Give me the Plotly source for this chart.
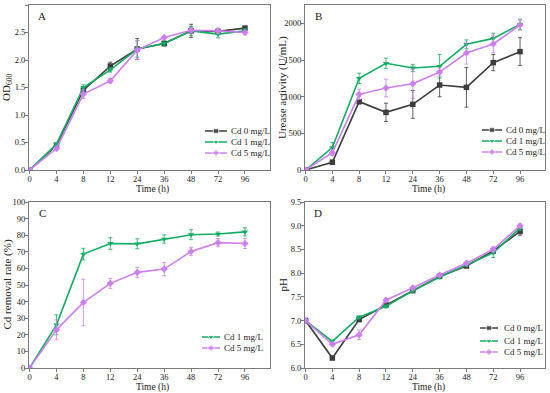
import plotly.graph_objects as go

times = ["0", "4", "8", "12", "24", "36", "48", "72", "96"]
series_names = ["Cd 0 mg/L", "Cd 1 mg/L", "Cd 5 mg/L"]

# Panel A: OD600
od_cd0 = [0, 0.45, 1.45, 1.89, 2.20, 2.30, 2.53, 2.52, 2.58]
od_cd1 = [0, 0.47, 1.50, 1.82, 2.20, 2.30, 2.53, 2.47, 2.53]
od_cd5 = [0, 0.39, 1.38, 1.62, 2.18, 2.41, 2.54, 2.53, 2.50]
od_cd0_err = [0, 0.02, 0.05, 0.07, 0.19, 0.04, 0.12, 0.04, 0.03]
od_cd1_err = [0, 0.02, 0.05, 0.04, 0.15, 0.05, 0.08, 0.07, 0.04]
od_cd5_err = [0, 0.02, 0.08, 0.04, 0.17, 0.02, 0.05, 0.05, 0.04]

# Panel B: urease activity
ur_cd0 = [0, 105, 932, 786, 895, 1159, 1127, 1464, 1614]
ur_cd1 = [0, 305, 1250, 1455, 1391, 1414, 1714, 1795, 1986]
ur_cd5 = [0, 236, 1032, 1118, 1177, 1336, 1595, 1718, 1977]
ur_cd0_err = [0, 30, 30, 125, 190, 160, 270, 110, 190]
ur_cd1_err = [0, 70, 70, 70, 50, 160, 60, 70, 70]
ur_cd5_err = [0, 40, 70, 120, 200, 60, 150, 120, 70]

# Panel C: Cd removal rate
rm_cd1 = [0, 26.0, 68.6, 75.0, 74.8, 77.7, 80.3, 80.7, 82.0]
rm_cd5 = [0, 23.0, 39.5, 51.0, 57.6, 59.6, 70.2, 75.5, 75.0]
rm_cd1_err = [0, 6.0, 3.5, 3.5, 3.0, 2.5, 3.0, 1.2, 2.5]
rm_cd5_err = [0, 6.0, 14.0, 3.0, 3.0, 4.0, 2.5, 2.5, 3.0]

# Panel D: pH
ph_cd0 = [7.00, 6.21, 7.02, 7.33, 7.63, 7.93, 8.15, 8.47, 8.88]
ph_cd1 = [7.00, 6.56, 7.07, 7.30, 7.63, 7.92, 8.17, 8.43, 8.95]
ph_cd5 = [7.00, 6.50, 6.70, 7.43, 7.69, 7.96, 8.21, 8.50, 9.00]
ph_cd0_err = [0.02, 0.03, 0.03, 0.03, 0.03, 0.03, 0.03, 0.05, 0.08]
ph_cd1_err = [0.02, 0.03, 0.03, 0.03, 0.03, 0.03, 0.03, 0.10, 0.05]
ph_cd5_err = [0.02, 0.03, 0.10, 0.03, 0.03, 0.03, 0.03, 0.05, 0.03]

colors = ["#3d3d3d", "#12ad62", "#cc7fee"]
symbols = ["square", "triangle-down", "diamond"]
FONT = "Liberation Serif"
TXT = "#222"

W, H = 550, 393

panels = [
    dict(ax="", box=(29, 270, 5, 170), yr=[0, 3.0], dt=0.5, fmt=".1f",
         ytitle="OD<sub>600</sub>", letter="A", leg=(-65, -43, -41, [-39, -28, -17]),
         data=[(0, od_cd0, od_cd0_err), (1, od_cd1, od_cd1_err), (2, od_cd5, od_cd5_err)]),
    dict(ax="2", box=(305, 545, 5, 170), yr=[0, 2250], dt=500, fmt="d",
         ytitle="Urease activity (U/mL)", letter="B", leg=(-63, -43, -41, [-40, -29, -18]),
         data=[(0, ur_cd0, ur_cd0_err), (1, ur_cd1, ur_cd1_err), (2, ur_cd5, ur_cd5_err)]),
    dict(ax="3", box=(29, 270, 202, 368), yr=[0, 100], dt=10, fmt="d",
         ytitle="Cd removal rate (%)", letter="C", leg=(-68, -50, -48, [-31, -20]),
         data=[(1, rm_cd1, rm_cd1_err), (2, rm_cd5, rm_cd5_err)]),
    dict(ax="4", box=(305, 545, 202, 368), yr=[6.0, 9.5], dt=0.5, fmt=".1f",
         ytitle="pH", letter="D", leg=(-65, -47, -43, [-40, -27, -16]),
         data=[(0, ph_cd0, ph_cd0_err), (1, ph_cd1, ph_cd1_err), (2, ph_cd5, ph_cd5_err)]),
]

fig = go.Figure()
layout = dict(
    width=W, height=H, margin=dict(l=0, r=0, t=0, b=0, autoexpand=False),
    paper_bgcolor="white", plot_bgcolor="rgba(0,0,0,0)",
    font=dict(family=FONT, size=9, color=TXT),
    showlegend=False, annotations=[],
)

axis_common = dict(showline=True, linecolor="#7a7a7a", linewidth=1, mirror=True,
                   ticks="outside", ticklen=3, tickcolor="#7a7a7a", showgrid=False,
                   zeroline=False, automargin=False, ticklabelstandoff=-2,
                   tickfont=dict(family=FONT, size=8.5, color=TXT))

# overlay pixel-space axis for the hand-drawn legends
layout["xaxis5"] = dict(domain=[0, 1], range=[0, W], visible=False, anchor="y5",
                        fixedrange=True)
layout["yaxis5"] = dict(domain=[0, 1], range=[H, 0], visible=False, anchor="x5",
                        fixedrange=True)

def ann(text, x, y, size=9, angle=0, xanchor="center"):
    return dict(text=text, xref="x5", yref="y5", x=x, y=y, xanchor=xanchor,
                yanchor="middle", showarrow=False, textangle=angle,
                font=dict(family=FONT, size=size, color=TXT))

MS = 5.5
for p in panels:
    ax = p["ax"]
    xa, ya = "x" + ax, "y" + ax
    l, r, t, b = p["box"]
    for idx, vals, errs in p["data"]:
        fig.add_trace(go.Scatter(
            x=times, y=vals, name=series_names[idx], mode="lines+markers",
            line=dict(color=colors[idx], width=1.6),
            marker=dict(symbol=symbols[idx], size=MS, color=colors[idx]),
            error_y=dict(type="data", array=errs, visible=True, color=colors[idx],
                         thickness=0.8, width=2),
            xaxis=xa, yaxis=ya,
        ))
    layout["xaxis" + ax] = dict(axis_common, domain=[l / W, r / W], anchor=ya, type="category",
                                range=[-0.02, 8.93])
    layout["yaxis" + ax] = dict(axis_common, domain=[1 - b / H, 1 - t / H], anchor=xa, range=p["yr"],
                                dtick=p["dt"], tick0=p["yr"][0], tickformat=p["fmt"])
    # axis titles and panel letter
    layout["annotations"].append(ann("Time (h)", (l + r) / 2 + 3, b + 19, size=9.5))
    layout["annotations"].append(ann(p["ytitle"], l - 22.5, (t + b) / 2, size=11, angle=-90))
    layout["annotations"].append(ann(p["letter"], l + 13, t + 11, size=11))
    # legend
    lx0, lx1, tx, rows = p["leg"]
    for (idx, _, _), dy in zip(p["data"], rows):
        yy = b + dy
        fig.add_trace(go.Scatter(
            x=[r + lx0, r + (lx0 + lx1) / 2, r + lx1], y=[yy, yy, yy],
            mode="lines+markers", line=dict(color=colors[idx], width=1.5),
            marker=dict(symbol=symbols[idx], size=[0, MS, 0], color=colors[idx]),
            xaxis="x5", yaxis="y5", hoverinfo="skip", showlegend=False))
        layout["annotations"].append(ann(series_names[idx], r + tx, yy, size=9, xanchor="left"))

fig.update_layout(**layout)
fig.write_html("out.html", config={"displayModeBar": False},
               post_script="document.body.style.margin='0px';")
